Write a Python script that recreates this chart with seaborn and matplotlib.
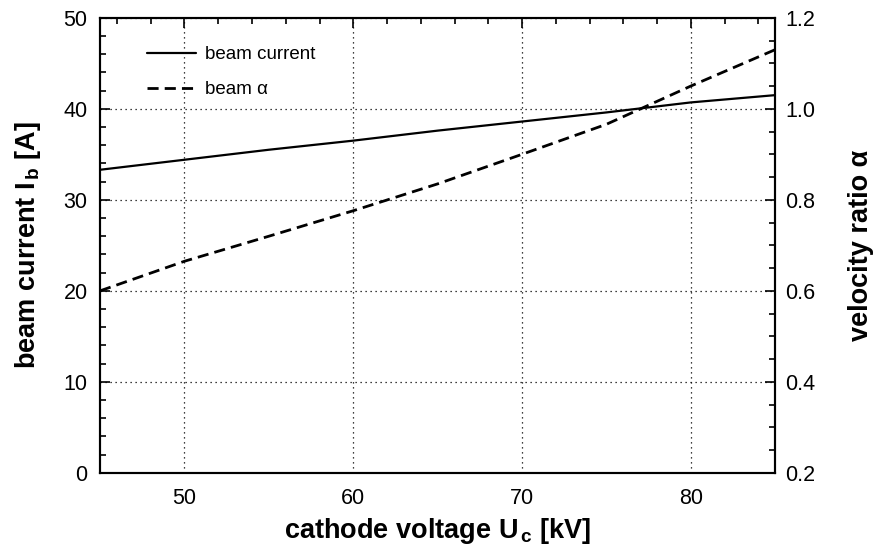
import matplotlib
matplotlib.use("Agg")
import matplotlib.pyplot as plt
from matplotlib.ticker import MultipleLocator
import seaborn as sns
import pandas as pd

# cathode voltage [kV]
voltage = [45, 50, 55, 60, 65, 70, 75, 80, 85]
# beam current [A]
beam_current = [33.3, 34.4, 35.5, 36.5, 37.6, 38.6, 39.6, 40.7, 41.5]
# velocity ratio alpha
beam_alpha = [0.600, 0.665, 0.720, 0.776, 0.835, 0.900, 0.966, 1.050, 1.130]

sns.set_style("white")
plt.rcParams["font.family"] = ["Liberation Sans", "DejaVu Sans"]
plt.rcParams["mathtext.fontset"] = "custom"
plt.rcParams["mathtext.rm"] = "Liberation Sans:bold"
plt.rcParams["mathtext.bf"] = "Liberation Sans:bold"
plt.rcParams["mathtext.it"] = "Liberation Sans:bold"
for key in ("text.color", "axes.labelcolor", "xtick.color", "ytick.color",
            "axes.edgecolor"):
    plt.rcParams[key] = "black"

df = pd.DataFrame({"voltage": voltage, "current": beam_current, "alpha": beam_alpha})

fig = plt.figure(figsize=(8.78, 5.55), dpi=100)
ax = fig.add_axes([0.114, 0.148, 0.769, 0.820])
ax2 = ax.twinx()

sns.lineplot(data=df, x="voltage", y="current", ax=ax, color="black",
             linewidth=1.6, label="beam current", legend=False)
sns.lineplot(data=df, x="voltage", y="alpha", ax=ax2, color="black",
             linewidth=2.0, label="beam \u03b1", legend=False)
ax2.lines[0].set_dashes([4, 2.2])

ax.set_xlim(45, 85)
ax.set_ylim(0, 50)
ax2.set_ylim(0.2, 1.2)

ax.xaxis.set_major_locator(MultipleLocator(10))
ax.xaxis.set_minor_locator(MultipleLocator(2))
ax.yaxis.set_major_locator(MultipleLocator(10))
ax.yaxis.set_minor_locator(MultipleLocator(2))
ax2.yaxis.set_major_locator(MultipleLocator(0.2))
ax2.yaxis.set_minor_locator(MultipleLocator(0.05))
ax2.yaxis.set_major_formatter(plt.FormatStrFormatter("%.1f"))

ax.grid(True, which="major", linestyle=(0, (1, 3)), color="black", linewidth=0.9)
ax2.grid(False)

ax.tick_params(axis="both", which="both", direction="in", top=True,
               labelsize=15.5, color="black", labelcolor="black", width=1.2)
ax.tick_params(axis="both", which="major", length=7)
ax.tick_params(axis="both", which="minor", length=4)
ax.tick_params(axis="x", which="major", pad=11)
ax.tick_params(axis="y", which="major", pad=9)
ax.tick_params(axis="y", which="both", right=False)
ax2.tick_params(axis="y", which="both", direction="in", labelsize=15.5,
                color="black", labelcolor="black", width=1.2)
ax2.tick_params(axis="y", which="major", length=7, pad=7)
ax2.tick_params(axis="y", which="minor", length=4)

for a in (ax, ax2):
    for s in a.spines.values():
        s.set_color("black")
        s.set_linewidth(1.5)

ax.set_xlabel("cathode voltage U$_{\\,\\mathrm{c}}$ [kV]", fontsize=19.5,
              fontweight="bold", labelpad=5, color="black")
ax.set_ylabel("beam current I$_{\\,\\mathrm{b}}$ [A]", fontsize=19.5,
              fontweight="bold", labelpad=15, color="black")
ax2.set_ylabel("velocity ratio \u03b1", fontsize=19.5, fontweight="bold",
               labelpad=24, rotation=90, color="black")

handles = ax.get_lines()[:1] + ax2.get_lines()[:1]
leg = ax.legend(handles, [h.get_label() for h in handles], loc="upper left",
                bbox_to_anchor=(0.045, 0.975), frameon=False, fontsize=13.5,
                handlelength=2.6, handletextpad=0.45, labelspacing=0.95,
                labelcolor="black")

fig.savefig("out.png", dpi=100)
